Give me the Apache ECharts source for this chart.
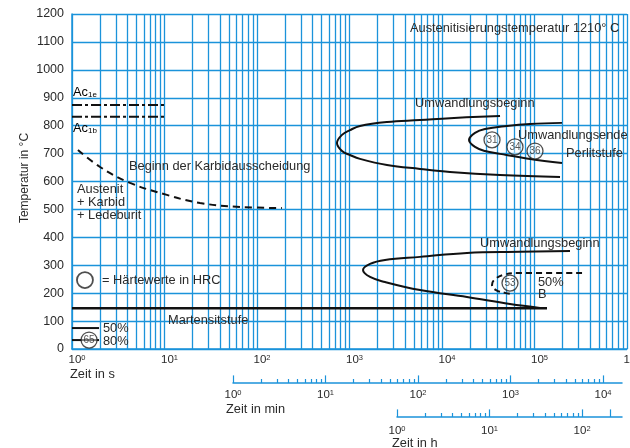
<!DOCTYPE html>
<html><head><meta charset="utf-8">
<script src="https://cdn.jsdelivr.net/npm/echarts@6/dist/echarts.min.js"></script>
<style>html,body{margin:0;padding:0;background:#fff}#c{width:630px;height:448px}</style>
</head><body><div id="c"></div>
<script>
// ---- data (time in s, temperature in °C) ----
const ac1e = [[1, 874], [10.5, 874]];
const ac1b = [[1, 832], [10.5, 832]];
const carbideStart = [[1.16, 713], [2.01, 652], [4.24, 595], [10.6, 552], [24.2, 523], [65.5, 509], [186, 505]];
const pearliteStart = [[42400, 835], [12200, 827], [5785, 820], [2543, 813], [1299, 799], [1012, 784], [830, 767], [732, 738],
  [830, 709], [1012, 695], [1299, 681], [2543, 659], [5785, 645], [12200, 634], [42400, 623], [188800, 616]];
const pearliteEnd = [[198200, 810], [89400, 806], [50400, 799], [29150, 788], [22740, 774], [19590, 749],
  [22740, 724], [29150, 709], [42380, 699], [89400, 681], [198200, 666]];
const bainiteStart = [[242000, 351], [69700, 348], [18620, 344], [5785, 330], [2421, 319], [1667, 305], [1400, 283],
  [1667, 258], [2421, 240], [5785, 211], [18620, 186], [54330, 161], [114600, 147]];
const bainite50 = [[326500, 272], [66340, 272], [45650, 265], [36500, 247], [34740, 229], [38370, 211], [48000, 201], [57150, 197]];
const martensiteStart = [[1, 146], [136500, 146]];
const martensite50 = [[1, 75], [1.96, 75]];
const martensite80 = [[1, 32], [1.96, 32]];
const hardness = [[34740, 749, '31'], [61500, 724, '34'], [101200, 709, '36'], [54330, 236, '53'], [1.53, 32, '65']];
const legendCircle = [[1.38, 247]];
const tempMin = 0, tempMax = 1200, tempStep = 100;
const secMax = 1e6;                 // seconds axis
const minMax = 16050;               // minutes axis end
const hMax = 270;                   // hours axis end
const hExtraTick = [200];

// ---- helpers ----
const BLUE = '#1b93da';
const TXT = '#2a2a2a';
const FONT = '"Liberation Sans", Arial, sans-serif';
const FS = 12.8;
function minors(maxDecade, maxVal) {
  const out = [];
  for (let k = 0; k <= maxDecade; k++) for (let m = 2; m <= 9; m++) { const v = m * Math.pow(10, k); if (v < maxVal) out.push(v); }
  return out;
}
function majors(maxVal) { const out = []; for (let v = 1; v <= maxVal; v *= 10) out.push(v); return out; }
const supFmt = v => { const e = Math.round(Math.log10(v)); return '{b|10}{s|' + e + '}'; };
const supRich = { b: { fontSize: 11.5, fontFamily: FONT, color: TXT }, s: { fontSize: 7.5, fontFamily: FONT, color: TXT, verticalAlign: 'top' } };

function tickLines(vals, h) { return vals.map(v => [{ coord: [v, 0] }, { coord: [v, h] }]); }

const curve = (data, opt) => Object.assign({
  type: 'line', data, xAxisIndex: 0, yAxisIndex: 0, showSymbol: false, symbol: 'none', z: 5, silent: true,
  lineStyle: { color: '#111', width: 2 }
}, opt || {});

const chart = echarts.init(document.getElementById('c'), null, { renderer: 'canvas' });

function txt(x, y, text, size, extra) {
  return Object.assign({ type: 'text', x, y, z: 50, style: { text, fill: TXT, font: (size || FS) + 'px ' + FONT, verticalAlign: 'middle', align: 'left' } }, extra || {});
}

const option = {
  backgroundColor: '#fff',
  animation: false,
  grid: [
    { left: 72, top: 14, width: 555, height: 335, outerBoundsMode: 'none', containLabel: false },
    { left: 233, top: 375, width: 389, height: 8, outerBoundsMode: 'none', containLabel: false },
    { left: 397, top: 409, width: 225, height: 8, outerBoundsMode: 'none', containLabel: false }
  ],
  xAxis: [
    { gridIndex: 0, type: 'log', logBase: 10, min: 1, max: secMax,
      axisLine: { lineStyle: { color: BLUE, width: 1.5 } }, axisTick: { show: false },
      splitLine: { show: true, lineStyle: { color: BLUE, width: 1.3 } },
      axisLabel: { formatter: supFmt, rich: supRich, margin: 5, padding: [0, 0, 0, 10], hideOverlap: false } },
    { gridIndex: 1, type: 'log', min: 1, max: minMax,
      axisLine: { lineStyle: { color: BLUE, width: 1.5 } }, axisTick: { show: false }, splitLine: { show: false },
      axisLabel: { formatter: supFmt, rich: supRich, margin: 6, showMaxLabel: false } },
    { gridIndex: 2, type: 'log', min: 1, max: hMax,
      axisLine: { lineStyle: { color: BLUE, width: 1.5 } }, axisTick: { show: false }, splitLine: { show: false },
      axisLabel: { formatter: supFmt, rich: supRich, margin: 8, showMaxLabel: false } }
  ],
  yAxis: [
    { gridIndex: 0, type: 'value', min: tempMin, max: tempMax, interval: tempStep,
      axisLine: { show: true, lineStyle: { color: BLUE, width: 1.5 } }, axisTick: { show: false },
      splitLine: { show: true, lineStyle: { color: BLUE, width: 1.3 } },
      axisLabel: { fontSize: 12.5, fontFamily: FONT, color: TXT, margin: 8, formatter: v => String(v) } },
    { gridIndex: 1, type: 'value', min: 0, max: 1, show: false },
    { gridIndex: 2, type: 'value', min: 0, max: 1, show: false }
  ],
  series: [
    // minor log grid lines
    { type: 'line', data: [], xAxisIndex: 0, yAxisIndex: 0, z: 1, silent: true,
      markLine: { silent: true, symbol: 'none', label: { show: false }, animation: false,
        lineStyle: { color: BLUE, width: 1.3, type: 'solid' },
        data: minors(5, secMax).map(v => ({ xAxis: v })) } },
    // minute axis ticks
    { type: 'line', data: [], xAxisIndex: 1, yAxisIndex: 1, silent: true,
      markLine: { silent: true, symbol: 'none', label: { show: false }, animation: false,
        lineStyle: { color: BLUE, width: 1.2, type: 'solid' },
        data: tickLines(minors(3, minMax), 0.5).concat(tickLines(majors(minMax), 0.95)) } },
    // hour axis ticks
    { type: 'line', data: [], xAxisIndex: 2, yAxisIndex: 2, silent: true,
      markLine: { silent: true, symbol: 'none', label: { show: false }, animation: false,
        lineStyle: { color: BLUE, width: 1.2, type: 'solid' },
        data: tickLines(minors(1, hMax), 0.5).concat(tickLines(majors(hMax), 0.95)).concat(tickLines(hExtraTick, 0.95)) } },
    curve(ac1e, { lineStyle: { color: '#111', width: 2, type: [10, 3, 3, 3] } }),
    curve(ac1b, { lineStyle: { color: '#111', width: 2, type: [10, 3, 3, 3] } }),
    curve(carbideStart, { smooth: 0.4, lineStyle: { color: '#111', width: 2, type: [7, 5] } }),
    curve(pearliteStart, { smooth: 0.4 }),
    curve(pearliteEnd, { smooth: 0.4 }),
    curve(bainiteStart, { smooth: 0.4 }),
    curve(bainite50, { smooth: 0.4, lineStyle: { color: '#111', width: 2, type: [6, 4] } }),
    curve(martensiteStart, { lineStyle: { color: '#111', width: 2.5 } }),
    curve(martensite50, { lineStyle: { color: '#111', width: 2 } }),
    curve(martensite80, { lineStyle: { color: '#111', width: 2 } }),
    { type: 'scatter', xAxisIndex: 0, yAxisIndex: 0, z: 10, silent: true, symbol: 'circle', symbolSize: 16,
      data: hardness,
      itemStyle: { color: 'rgba(255,255,255,0.55)', borderColor: '#222', borderWidth: 1.3 },
      label: { show: true, position: 'inside', formatter: p => p.data[2], fontSize: 10, fontFamily: FONT, color: TXT } },
    { type: 'scatter', xAxisIndex: 0, yAxisIndex: 0, z: 10, silent: true, symbol: 'circle', symbolSize: 16,
      data: legendCircle, itemStyle: { color: 'rgba(255,255,255,0)', borderColor: '#222', borderWidth: 1.8 } }
  ],
  graphic: [
    txt(410, 28, 'Austenitisierungstemperatur 1210° C'),
    txt(415, 103, 'Umwandlungsbeginn'),
    txt(518, 135, 'Umwandlungsende'),
    txt(566, 153, 'Perlitstufe'),
    txt(129, 166, 'Beginn der Karbidausscheidung'),
    { type: 'text', x: 77, y: 202, z: 50, style: { text: 'Austenit\n+ Karbid\n+ Ledeburit', fill: TXT, font: FS + 'px ' + FONT, lineHeight: 13, verticalAlign: 'middle', align: 'left' } },
    { type: 'text', x: 73, y: 92, z: 50, style: { text: '{a|Ac}{s|1e}', verticalAlign: 'middle', align: 'left', rich: { a: { fontSize: FS, fontFamily: FONT, color: TXT }, s: { fontSize: 8, fontFamily: FONT, color: TXT, verticalAlign: 'bottom' } } } },
    { type: 'text', x: 73, y: 128, z: 50, style: { text: '{a|Ac}{s|1b}', verticalAlign: 'middle', align: 'left', rich: { a: { fontSize: FS, fontFamily: FONT, color: TXT }, s: { fontSize: 8, fontFamily: FONT, color: TXT, verticalAlign: 'bottom' } } } },
    txt(102, 280, '= Härtewerte in HRC'),
    txt(168, 320, 'Martensitstufe'),
    txt(103, 328, '50%'),
    txt(103, 341, '80%'),
    txt(480, 243, 'Umwandlungsbeginn'),
    { type: 'text', x: 538, y: 288, z: 50, style: { text: '50%\nB', fill: TXT, font: FS + 'px ' + FONT, lineHeight: 12, verticalAlign: 'middle', align: 'left' } },
    { type: 'text', x: 25, y: 178, rotation: Math.PI / 2, z: 50, style: { text: 'Temperatur in °C', fill: TXT, font: '12px ' + FONT, verticalAlign: 'middle', align: 'center' } },
    txt(70, 374, 'Zeit in s'),
    txt(226, 409, 'Zeit in min'),
    txt(392, 443, 'Zeit in h')
  ]
};
chart.setOption(option);
</script>
</body></html>
